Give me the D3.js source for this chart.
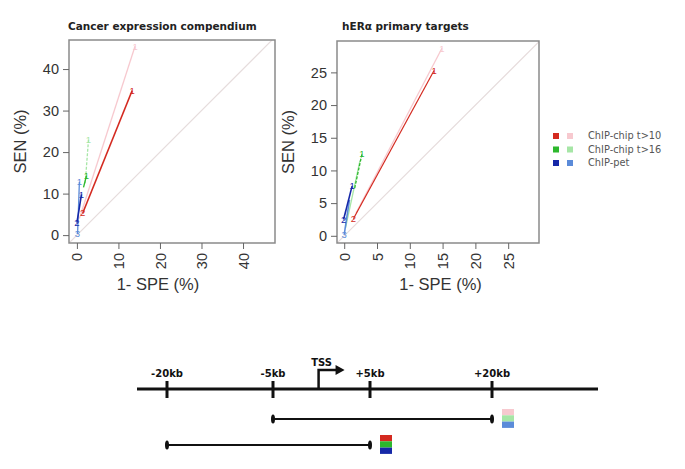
<!DOCTYPE html>
<html>
<head>
<meta charset="utf-8">
<script src="https://cdn.jsdelivr.net/npm/d3@7"></script>
<style>
  body { margin: 0; background: #fff; }
  svg { display: block; }
  .tick text { font-family: "Liberation Sans", Arial, sans-serif; }
</style>
</head>
<body>
<div id="chart"></div>
<script>
// ---- data ----
// each point: [1-SPE %, SEN %, label]
var cecPink   = [[0.6, 4.0, ""], [14.0, 45.5, "1"]];
var cecRed    = [[1.4, 5.3, "2"], [13.3, 34.8, "1"]];
var cecLgreen = [[2.0, 12.5, ""], [2.8, 23.0, "1"]];
var cecGreen  = [[1.6, 11.5, ""], [2.3, 14.3, "1"]];
var cecLblue  = [[0.1, 0.3, "3"], [0.2, 1.2, ""], [0.6, 12.8, "1"]];
var cecBlue   = [[0.0, 3.0, "2"], [0.5, 6.0, ""], [1.1, 9.8, "1"]];

var herPink   = [[1.8, 3.5, ""], [14.9, 28.7, "1"]];
var herRed    = [[1.4, 2.6, "2"], [13.7, 25.3, "1"]];
var herLgreen = [[0.2, 1.2, ""], [2.4, 11.5, ""]];
var herGreen  = [[1.6, 7.3, ""], [2.7, 12.5, "1"]];
var herLblue  = [[0.0, 0.2, "3"], [0.8, 5.5, ""]];
var herBlue   = [[-0.1, 2.5, "2"], [1.2, 7.6, "1"]];

var cecTicks = [0, 10, 20, 30, 40];
var herTicks = [0, 5, 10, 15, 20, 25];

var legendNames = ["ChIP-chip t>10", "ChIP-chip t>16", "ChIP-pet"];
var darkCols  = ["#d42a20", "#2db82d", "#1628a8"];
var lightCols = ["#f7c9cf", "#a6e6a6", "#5b8bd9"];

// genomic schematic
var kbTicks = [-20, -5, 5, 20];
var kbLabels = ["-20kb", "-5kb", "+5kb", "+20kb"];
var windowA = [-5, 20];   // light colours
var windowB = [-20, 5];   // dark colours

var svg = d3.select("#chart").append("svg")
    .attr("width", 685)
    .attr("height", 469);

function drawPanel(opt) {
  var x = d3.scaleLinear().domain(opt.xdom).range([opt.left, opt.right]);
  var y = d3.scaleLinear().domain(opt.ydom).range([opt.bottom, opt.top]);
  var g = svg.append("g");

  g.append("clipPath").attr("id", opt.id)
    .append("rect")
      .attr("x", opt.left).attr("y", opt.top)
      .attr("width", opt.right - opt.left).attr("height", opt.bottom - opt.top);

  var inner = g.append("g").attr("clip-path", "url(#" + opt.id + ")");

  // diagonal reference
  inner.append("line")
      .attr("x1", x(opt.xdom[0])).attr("y1", y(opt.xdom[0]))
      .attr("x2", x(opt.ydom[1] + 5)).attr("y2", y(opt.ydom[1] + 5))
      .style("stroke", "#e6dcdc").style("stroke-width", 1.2);

  var line = d3.line().x(function(d) { return x(d[0]); }).y(function(d) { return y(d[1]); });

  opt.series.forEach(function(s) {
    inner.append("path")
        .datum(s.pts)
        .attr("d", line)
        .style("fill", "none")
        .style("stroke", s.col)
        .style("stroke-width", s.w || 1.3)
        .style("stroke-dasharray", s.dash || null);
    inner.selectAll(null)
        .data(s.pts.filter(function(d) { return d[2] !== ""; }))
      .enter().append("text")
        .attr("x", function(d) { return x(d[0]); })
        .attr("y", function(d) { return y(d[1]); })
        .attr("dy", "0.35em")
        .style("text-anchor", "middle")
        .style("font-family", "'Liberation Sans', Arial, sans-serif")
        .style("font-size", "9.5px")
        .style("fill", s.col)
        .text(function(d) { return d[2]; });
  });

  // box
  g.append("rect")
      .attr("x", opt.left).attr("y", opt.top)
      .attr("width", opt.right - opt.left).attr("height", opt.bottom - opt.top)
      .style("fill", "none").style("stroke", "#8a8a8a").style("stroke-width", 1.5);

  // y axis
  var yAxis = d3.axisLeft(y).tickValues(opt.ticks).tickSize(6).tickPadding(4);
  var ya = g.append("g")
      .attr("transform", "translate(" + opt.left + ",0)")
      .call(yAxis);
  ya.select(".domain").remove();
  ya.selectAll("line").style("stroke", "#666");
  ya.selectAll("text").style("font-size", "14.5px").style("fill", "#333");

  // x axis, labels rotated like R las=2
  var xAxis = d3.axisBottom(x).tickValues(opt.ticks).tickSize(6);
  var xa = g.append("g")
      .attr("transform", "translate(0," + opt.bottom + ")")
      .call(xAxis);
  xa.select(".domain").remove();
  xa.selectAll("line").style("stroke", "#666");
  xa.selectAll("text")
      .attr("transform", "rotate(-90)")
      .attr("x", -10).attr("y", 0).attr("dy", "0.35em")
      .style("text-anchor", "end")
      .style("font-size", "14.5px").style("fill", "#333");

  // axis titles
  g.append("text")
      .attr("transform", "rotate(-90)")
      .attr("x", -(opt.top + opt.bottom) / 2)
      .attr("y", opt.left - 43)
      .style("text-anchor", "middle")
      .style("font-family", "'Liberation Sans', Arial, sans-serif")
      .style("font-size", "16.5px").style("fill", "#333")
      .text("SEN (%)");
  g.append("text")
      .attr("x", x(opt.ticks[Math.floor(opt.ticks.length / 2)]) - 2)
      .attr("y", opt.bottom + 47)
      .style("text-anchor", "middle")
      .style("font-family", "'Liberation Sans', Arial, sans-serif")
      .style("font-size", "16.5px").style("fill", "#333")
      .text("1- SPE (%)");

  // title
  g.append("text")
      .attr("x", opt.titleX)
      .attr("y", 30)
      .style("font-family", "'DejaVu Sans', Verdana, sans-serif")
      .style("font-weight", "bold")
      .style("font-size", "10.5px").style("fill", "#222")
      .text(opt.title);
}

drawPanel({
  id: "clipA", title: "Cancer expression compendium", titleX: 68,
  left: 69, right: 275, top: 40, bottom: 243,
  xdom: [-1.9, 47.7], ydom: [-1.9, 47.0], ticks: cecTicks,
  series: [
    {pts: cecPink, col: lightCols[0]},
    {pts: cecRed, col: darkCols[0], w: 1.5},
    {pts: cecLgreen, col: lightCols[1], dash: "3,1.5"},
    {pts: cecGreen, col: darkCols[1]},
    {pts: cecLblue, col: lightCols[2]},
    {pts: cecBlue, col: darkCols[2], w: 1.6}
  ]
});

drawPanel({
  id: "clipB", title: "hER\u03b1 primary targets", titleX: 342,
  left: 337, right: 539, top: 41, bottom: 243,
  xdom: [-1.1, 29.7], ydom: [-1.1, 29.8], ticks: herTicks,
  series: [
    {pts: herPink, col: lightCols[0]},
    {pts: herRed, col: darkCols[0], w: 1.2},
    {pts: herLgreen, col: lightCols[1]},
    {pts: herGreen, col: darkCols[1], dash: "3,1.5"},
    {pts: herLblue, col: lightCols[2], w: 1.6},
    {pts: herBlue, col: darkCols[2], w: 1.6}
  ]
});

// legend
var leg = svg.append("g");
legendNames.forEach(function(name, i) {
  var yy = 136 + i * 13.5;
  leg.append("rect").attr("x", 553).attr("y", yy - 3).attr("width", 6).attr("height", 6)
      .style("fill", darkCols[i]);
  leg.append("rect").attr("x", 567).attr("y", yy - 3).attr("width", 6).attr("height", 6)
      .style("fill", lightCols[i]);
  leg.append("text").attr("x", 588).attr("y", yy).attr("dy", "0.35em")
      .style("font-family", "'DejaVu Sans', Verdana, sans-serif")
      .style("font-size", "9.8px").style("fill", "#555")
      .text(name);
});

// ---- genomic schematic ----
var kb = d3.scaleLinear().domain([-26, -20, -5, 5, 20, 35]).range([137, 167, 273, 370, 492, 598]);
var gy = 389;
var sch = svg.append("g");

sch.append("line")
    .attr("x1", kb(-26)).attr("x2", kb(35)).attr("y1", gy).attr("y2", gy)
    .style("stroke", "#111").style("stroke-width", 3);

sch.selectAll(".kbtick").data(kbTicks).enter().append("line")
    .attr("x1", function(d) { return kb(d); }).attr("x2", function(d) { return kb(d); })
    .attr("y1", gy - 8).attr("y2", gy + 9)
    .style("stroke", "#111").style("stroke-width", 3);

sch.selectAll(".kblab").data(kbTicks).enter().append("text")
    .attr("x", function(d) { return kb(d); })
    .attr("y", gy - 12)
    .style("text-anchor", "middle")
    .style("font-family", "'DejaVu Sans', Verdana, sans-serif")
    .style("font-weight", "bold").style("font-size", "10px").style("fill", "#111")
    .text(function(d, i) { return kbLabels[i]; });

// TSS arrow
var tssX = kb(-0.3);
sch.append("path")
    .attr("d", "M" + tssX + "," + gy + "V" + (gy - 19) + "H" + (tssX + 19))
    .style("fill", "none").style("stroke", "#111").style("stroke-width", 2.5);
sch.append("path")
    .attr("d", "M" + (tssX + 26) + "," + (gy - 19) + "l-9,-5v10z")
    .style("fill", "#111");
sch.append("text")
    .attr("x", tssX + 3).attr("y", gy - 23)
    .style("text-anchor", "middle")
    .style("font-family", "'DejaVu Sans', Verdana, sans-serif")
    .style("font-weight", "bold").style("font-size", "10px").style("fill", "#111")
    .text("TSS");

function drawWindow(win, yy, cols) {
  sch.append("line")
      .attr("x1", kb(win[0])).attr("x2", kb(win[1])).attr("y1", yy).attr("y2", yy)
      .style("stroke", "#111").style("stroke-width", 2);
  win.forEach(function(v) {
    sch.append("ellipse").attr("cx", kb(v)).attr("cy", yy).attr("rx", 2).attr("ry", 4.5)
        .style("fill", "#111");
  });
  cols.forEach(function(c, i) {
    sch.append("rect")
        .attr("x", kb(win[1]) + 10).attr("y", yy - 10 + i * 6.3)
        .attr("width", 12).attr("height", 6.3)
        .style("fill", c);
  });
}
drawWindow(windowA, 419, lightCols);
drawWindow(windowB, 445, darkCols);
</script>
</body>
</html>
